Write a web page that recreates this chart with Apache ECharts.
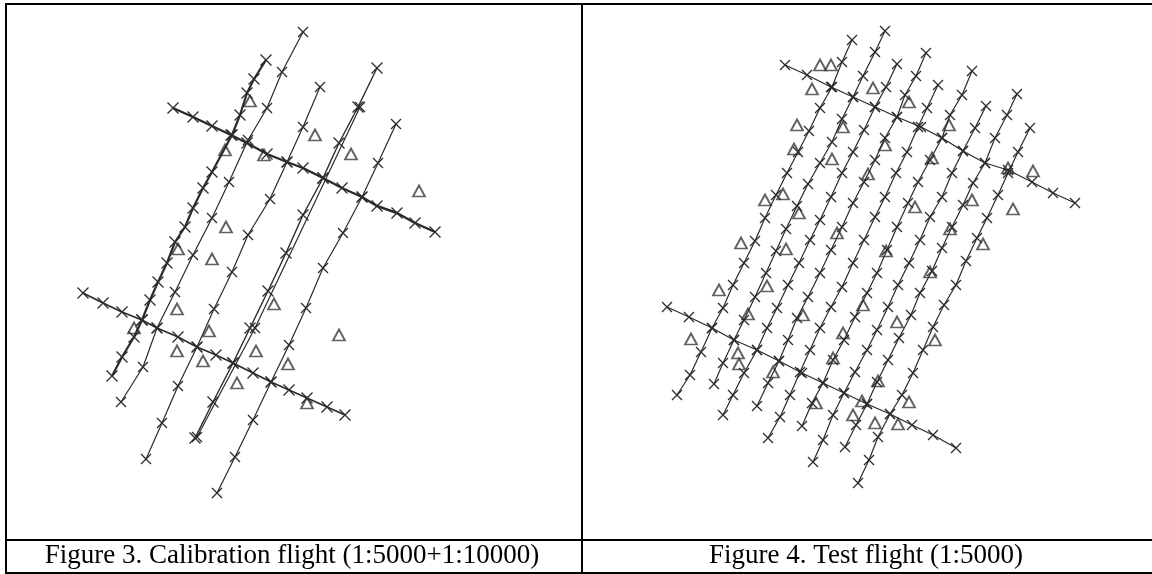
<!DOCTYPE html>
<html>
<head>
<meta charset="utf-8">
<script src="https://cdn.jsdelivr.net/npm/echarts@6/dist/echarts.min.js"></script>
<style>
  html, body { margin: 0; padding: 0; background: #fff; }
  #box { width: 1152px; height: 574px; }
</style>
</head>
<body>
<div id="box"></div>
<script>
// Figure 3 - calibration flight, strips (image coords: x right, y down)
var fig3StripA = [[266,60],[254,79],[247,93],[240,115],[232,135],[212,172],[203,188],[193,208],[185,227],[175,242],[167,263],[158,282],[150,300],[142,320],[134,337],[122,357],[112,376]];
var fig3StripB = [[303,32],[282,72],[267,108],[248,140],[229,182],[212,218],[193,255],[175,292],[157,328],[143,367],[121,402]];
var fig3StripC = [[320,87],[303,127],[287,162],[270,199],[248,235],[232,272],[214,309],[197,347],[178,386],[162,423],[146,459]];
var fig3StripD = [[377,68],[358,107],[339,143],[323,178],[303,215],[286,253],[268,291],[250,328],[233,363],[213,402],[195,438]];
var fig3StripD2 = [[360,107],[255,328],[197,437]];
var fig3StripE = [[396,124],[378,163],[362,197],[343,233],[323,268],[306,308],[289,345],[271,382],[253,420],[235,457],[217,493]];
var fig3CrossTop = [[173,108],[193,117],[212,126],[231,135],[247,143],[267,154],[287,162],[303,168],[323,178],[342,188],[362,197],[377,206],[397,213],[415,223],[435,232]];
var fig3CrossLow = [[83,293],[103,303],[122,312],[142,320],[157,328],[178,337],[197,347],[216,355],[233,363],[253,373],[271,382],[289,390],[307,398],[327,407],[345,415]];
var fig3Control = [[250,101],[315,135],[225,150],[264,155],[351,154],[419,191],[226,227],[178,249],[212,259],[177,309],[274,304],[134,328],[209,331],[339,335],[177,351],[256,351],[203,361],[288,364],[237,383],[307,403]];

// Figure 4 - test flight
var fig4Strip1 = [[852,40],[842,62],[832,87],[820,108],[809,131],[798,152],[787,173],[776,195],[765,218],[755,241],[744,263],[733,285],[723,308],[712,328],[701,352],[690,375],[677,395]];
var fig4Strip2 = [[885,31],[875,52],[863,76],[853,97],[842,119],[832,142],[820,163],[808,184],[797,206],[786,229],[776,251],[766,273],[755,297],[744,320],[734,340],[723,363],[714,384]];
var fig4Strip3 = [[897,64],[886,87],[875,107],[864,130],[853,152],[842,173],[831,197],[820,220],[810,240],[799,263],[788,285],[777,308],[767,328],[757,350],[744,373],[733,395],[723,415]];
var fig4Strip4 = [[926,53],[916,76],[905,95],[897,117],[885,138],[875,160],[864,182],[853,203],[842,227],[831,250],[820,273],[808,297],[797,318],[788,340],[779,361],[768,383],[757,406]];
var fig4Strip5 = [[938,85],[927,108],[918,127],[907,152],[896,173],[885,197],[875,217],[864,240],[853,263],[842,287],[831,307],[820,328],[810,350],[800,372],[790,395],[780,417],[768,438]];
var fig4Strip6 = [[972,71],[962,95],[950,115],[942,138],[930,160],[918,182],[908,203],[897,227],[887,250],[877,273],[867,293],[855,317],[844,340],[833,360],[823,383],[812,403],[802,426]];
var fig4Strip7 = [[986,106],[975,128],[963,151],[952,173],[942,197],[930,217],[920,240],[909,263],[898,285],[888,307],[877,330],[867,350],[855,372],[844,393],[833,415],[823,440],[813,462]];
var fig4Strip8 = [[1017,94],[1007,115],[995,138],[985,163],[973,183],[963,205],[952,227],[942,248],[932,271],[920,293],[911,315],[899,338],[888,360],[877,382],[867,404],[856,425],[845,447]];
var fig4Strip9 = [[1030,128],[1018,152],[1008,173],[998,195],[987,218],[977,238],[966,261],[956,285],[944,305],[933,327],[923,350],[913,373],[902,395],[890,414],[878,437],[869,460],[858,483]];
var fig4CrossTop = [[785,65],[807,75],[831,87],[853,97],[875,107],[897,117],[921,127],[942,138],[963,151],[985,163],[1008,170],[1032,182],[1053,193],[1075,203]];
var fig4CrossLow = [[667,307],[689,317],[712,328],[734,340],[757,350],[779,361],[802,373],[823,383],[844,393],[867,404],[890,414],[912,425],[933,435],[956,448]];
var fig4Control = [[820,65],[831,65],[812,89],[873,88],[909,102],[797,125],[843,127],[949,125],[794,149],[885,145],[832,159],[932,158],[1008,168],[1033,171],[868,174],[765,200],[783,194],[799,213],[915,207],[972,200],[1013,209],[837,233],[950,229],[741,243],[786,249],[886,251],[983,244],[930,272],[719,290],[767,286],[863,305],[748,314],[803,315],[897,322],[691,339],[843,333],[935,340],[738,353],[833,358],[739,364],[773,372],[878,381],[816,403],[862,401],[909,402],[853,415],[875,423],[898,424]];

var captions = ['Figure 3. Calibration flight (1:5000+1:10000)', 'Figure 4. Test flight (1:5000)'];

var chart = echarts.init(document.getElementById('box'));
var ink = '#2b2b2b';
var cross = 'path://M0,0L10,10M10,0L0,10';

function strip(data, width, size) {
  return {
    type: 'line',
    data: data,
    symbol: cross,
    symbolSize: size || 10,
    showAllSymbol: true,
    silent: true,
    lineStyle: { color: ink, width: width || 1.2 },
    itemStyle: { color: ink, borderColor: ink, borderWidth: 1.3 }
  };
}
function control(data) {
  return {
    type: 'scatter',
    data: data,
    symbol: 'triangle',
    symbolSize: [12, 11],
    silent: true,
    itemStyle: { color: 'rgba(255,255,255,0)', borderColor: '#3a3a3a', borderWidth: 1.8 }
  };
}

var series = [
  strip(fig3StripA, 2.2, 11), strip(fig3StripB), strip(fig3StripC), strip(fig3StripD, 1.4, 11),
  strip(fig3StripD2), strip(fig3StripE), strip(fig3CrossTop, 2.4, 11), strip(fig3CrossLow, 1.7, 11),
  control(fig3Control),
  strip(fig4Strip1), strip(fig4Strip2), strip(fig4Strip3), strip(fig4Strip4), strip(fig4Strip5),
  strip(fig4Strip6), strip(fig4Strip7), strip(fig4Strip8), strip(fig4Strip9),
  strip(fig4CrossTop, 1.3), strip(fig4CrossLow, 1.3),
  control(fig4Control)
];

function rule(x1, y1, x2, y2) {
  return { type: 'line', silent: true, shape: { x1: x1, y1: y1, x2: x2, y2: y2 }, style: { stroke: '#000', lineWidth: 2 } };
}
function caption(text, cx) {
  return {
    type: 'text', silent: true, x: cx, y: 555.5,
    style: { text: text, x: 0, y: 0, textAlign: 'center', textVerticalAlign: 'middle', font: '27px "Liberation Serif"', fill: '#000' }
  };
}

var option = {
  animation: false,
  backgroundColor: '#fff',
  grid: { left: 0, right: 0, top: 0, bottom: 0 },
  xAxis: { type: 'value', min: 0, max: 1152, show: false },
  yAxis: { type: 'value', min: 0, max: 574, inverse: true, show: false },
  series: series,
  graphic: [
    rule(5, 4, 1152, 4),
    rule(5, 540, 1152, 540),
    rule(5, 573, 1152, 573),
    rule(6, 4, 6, 574),
    rule(582, 4, 582, 574),
    caption(captions[0], 292),
    caption(captions[1], 866)
  ]
};

chart.setOption(option);
</script>
</body>
</html>
